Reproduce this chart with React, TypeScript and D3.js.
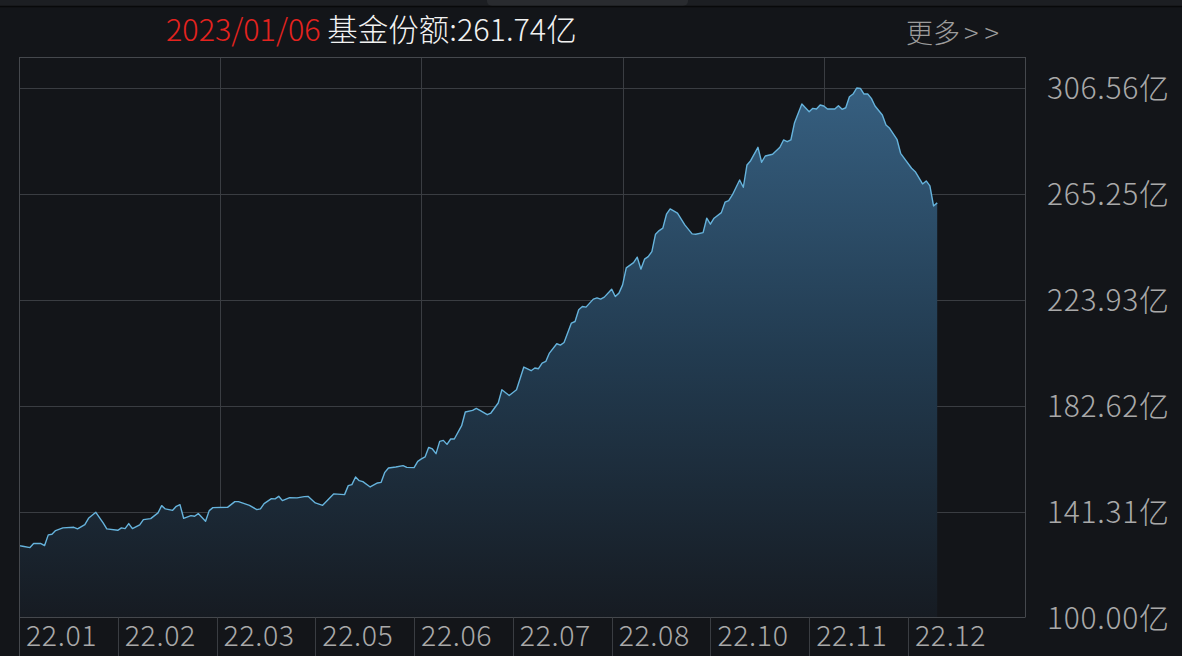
import React from 'react';
import * as d3 from 'd3';

// trading-day position of each reading and the fund share (亿份) at that day
const tradingDay = [
  0, 1, 3, 4, 6, 7, 8, 9, 10, 12, 15, 16, 18, 19, 21, 23, 24, 27, 28, 29,
  30, 31, 33, 34, 36, 38, 39, 40, 42, 43, 44, 45, 47, 48, 49, 51, 52, 53, 57, 59,
  60, 63, 65, 66, 67, 69, 70, 71, 72, 74, 76, 78, 79, 81, 83, 86, 89, 90, 91, 92,
  93, 94, 96, 98, 99, 100, 101, 103, 105, 106, 108, 109, 110, 111, 112, 113, 114, 115, 116, 117,
  118, 119, 121, 122, 124, 125, 126, 128, 129, 131, 132, 134, 136, 138, 140, 141, 142, 143, 144, 145,
  147, 148, 149, 151, 152, 153, 154, 155, 157, 158, 159, 160, 162, 163, 164, 165, 166, 168, 169, 170,
  171, 172, 173, 174, 175, 176, 177, 178, 180, 182, 184, 185, 187, 188, 189, 190, 192, 193, 194, 195,
  197, 198, 199, 200, 202, 203, 204, 206, 208, 209, 210, 211, 212, 214, 216, 217, 218, 219, 220, 221,
  223, 224, 225, 226, 227, 228, 229, 230, 231, 232, 233, 234, 236, 237, 238, 240, 241, 242, 244, 245,
  247, 248, 249, 250, 251,
];
const fundShares = [
  128.06, 127.79, 127.28, 128.84, 128.84, 128.06, 132.23, 132.46, 133.9, 134.96,
  135.19, 134.57, 136.24, 138.7, 141.04, 136.9, 134.57, 134.02, 134.96, 134.68,
  136.63, 134.68, 136.13, 138.19, 138.58, 140.8, 143.65, 142.36, 141.81, 143.37,
  144.04, 138.7, 139.75, 139.48, 140.53, 137.53, 141.7, 142.87, 142.98, 145.21,
  145.21, 143.76, 142.09, 142.36, 144.43, 146.37, 146.26, 147.27, 145.59, 146.76,
  146.65, 147.15, 147.27, 144.7, 143.76, 148.21, 147.93, 151.44, 151.83, 154.83,
  153.39, 153.0, 150.93, 152.49, 152.73, 156.62, 158.34, 158.73, 159.23, 158.57,
  158.46, 160.91, 161.85, 162.63, 166.37, 165.74, 163.91, 168.7, 169.09, 167.54,
  169.64, 169.64, 174.82, 180.16, 180.78, 181.56, 180.78, 179.11, 179.77, 183.67,
  188.85, 186.63, 188.85, 197.7, 196.26, 197.31, 197.04, 199.26, 199.88, 203.15,
  206.78, 206.27, 207.28, 214.84, 215.47, 220.03, 221.31, 221.08, 224.2, 224.7,
  224.2, 224.98, 228.09, 225.21, 226.54, 229.77, 236.4, 238.46, 240.56, 235.89,
  239.78, 240.8, 242.75, 249.53, 250.93, 251.87, 257.32, 259.39, 257.71, 253.15,
  249.64, 249.53, 250.15, 255.76, 253.42, 255.76, 257.95, 262.0, 262.62, 264.84,
  270.69, 267.84, 276.53, 278.21, 283.43, 277.59, 280.04, 280.7, 283.43, 286.28,
  285.61, 286.28, 293.02, 300.31, 297.31, 298.63, 298.36, 299.92, 299.53, 298.36,
  298.36, 299.64, 298.24, 298.86, 303.15, 304.2, 306.56, 306.42, 304.2, 304.2,
  302.53, 299.53, 296.02, 292.12, 290.84, 286.55, 281.09, 279.14, 275.25, 273.92,
  269.13, 270.3, 268.35, 260.56, 261.74,
];

const totalDays = 275;
const yTicks = [100.0, 141.31, 182.62, 223.93, 265.25, 306.56];
const xLabels = ['22.01', '22.02', '22.03', '22.05', '22.06', '22.07', '22.08', '22.10', '22.11', '22.12'];
const xLabelDays = [0, 27, 54, 81, 108, 135, 162, 189, 216, 243];
const xGridDays = [55, 110, 165, 220];

const headerDate = '2023/01/06';
const headerText = ' 基金份额:261.74亿';

const W = 1182;
const H = 656;
const plot = { left: 19, right: 1025, top: 57, bottom: 617.5, gridTop: 88 };
const font = '"Noto Sans CJK SC", "Noto Sans", sans-serif';

const App: React.FC = () => {
  const x = d3.scaleLinear().domain([0, totalDays]).range([plot.left, plot.right]);
  const y = d3.scaleLinear().domain([yTicks[0], yTicks[yTicks.length - 1]]).range([plot.bottom, plot.gridTop]);

  const points = tradingDay.map((d, i) => [d, fundShares[i]] as [number, number]);
  const line = d3.line<[number, number]>().x(d => x(d[0])).y(d => y(d[1]));
  const area = d3.area<[number, number]>().x(d => x(d[0])).y0(plot.bottom).y1(d => y(d[1]));

  return (
    <svg width={W} height={H} style={{ position: 'absolute', left: 0, top: 0, display: 'block' }} fontFamily={font} fontWeight={300}>
      <defs>
        <linearGradient id="shareFill" gradientUnits="userSpaceOnUse" x1="0" y1={plot.gridTop} x2="0" y2={plot.bottom}>
          <stop offset="0" stopColor="#365f80" />
          <stop offset="0.5" stopColor="#223b50" />
          <stop offset="1" stopColor="#161b22" />
        </linearGradient>
      </defs>
      <rect width={W} height={H} fill="#131519" />

      {/* window strip at the very top */}
      <rect x={0} y={0} width={W} height={6} fill="#1c1e22" />
      <rect x={487} y={-6} width={201} height={12} rx={5} fill="#292b2f" />
      <line x1={0} x2={W} y1={6.5} y2={6.5} stroke="#08090a" strokeWidth={1.5} />

      {/* header */}
      <text x={166} y={41} fontSize={30.5}>
        <tspan fill="#e5231f">{headerDate}</tspan>
        <tspan fill="#f2f2f2">{headerText}</tspan>
      </text>
      <text x={906} y={43} fontSize={27} fill="#9c9c9c">
        更多<tspan dx={4}>&gt;</tspan><tspan dx={6}>&gt;</tspan>
      </text>

      {/* grid */}
      {yTicks.slice(1).map(t => (
        <line key={t} x1={plot.left} x2={plot.right} y1={Math.round(y(t)) + 0.5} y2={Math.round(y(t)) + 0.5} stroke="#3a3d42" />
      ))}
      {xGridDays.map(d => (
        <line key={d} x1={Math.round(x(d)) + 0.5} x2={Math.round(x(d)) + 0.5} y1={plot.top} y2={plot.bottom} stroke="#3a3d42" />
      ))}

      {/* series */}
      <path d={area(points) ?? ''} fill="url(#shareFill)" />
      <path d={line(points) ?? ''} fill="none" stroke="#66b3dc" strokeWidth={1.4} strokeLinejoin="round" />

      {/* frame */}
      <line x1={plot.left + 0.5} x2={plot.left + 0.5} y1={plot.top} y2={H} stroke="#45484d" />
      <line x1={plot.left} x2={plot.right} y1={plot.top + 0.5} y2={plot.top + 0.5} stroke="#45484d" />
      <line x1={plot.right + 0.5} x2={plot.right + 0.5} y1={plot.top} y2={plot.bottom} stroke="#45484d" />
      <line x1={plot.left} x2={plot.right} y1={plot.bottom} y2={plot.bottom} stroke="#45484d" />

      {/* y labels */}
      {yTicks.map(t => (
        <text key={t} x={1047} y={y(t) + 11} fontSize={30} letterSpacing={0.7} fill="#a9a9a9">
          {t.toFixed(2)}亿
        </text>
      ))}

      {/* x labels */}
      {xLabels.map((lab, i) => (
        <g key={lab}>
          {i > 0 && (
            <line x1={Math.round(x(xLabelDays[i])) + 0.5} x2={Math.round(x(xLabelDays[i])) + 0.5} y1={plot.bottom} y2={H} stroke="#3a3d42" />
          )}
          <text x={x(xLabelDays[i]) + 7} y={646} fontSize={28.5} letterSpacing={0.6} fill="#a9a9a9">{lab}</text>
        </g>
      ))}
    </svg>
  );
};

export default App;
